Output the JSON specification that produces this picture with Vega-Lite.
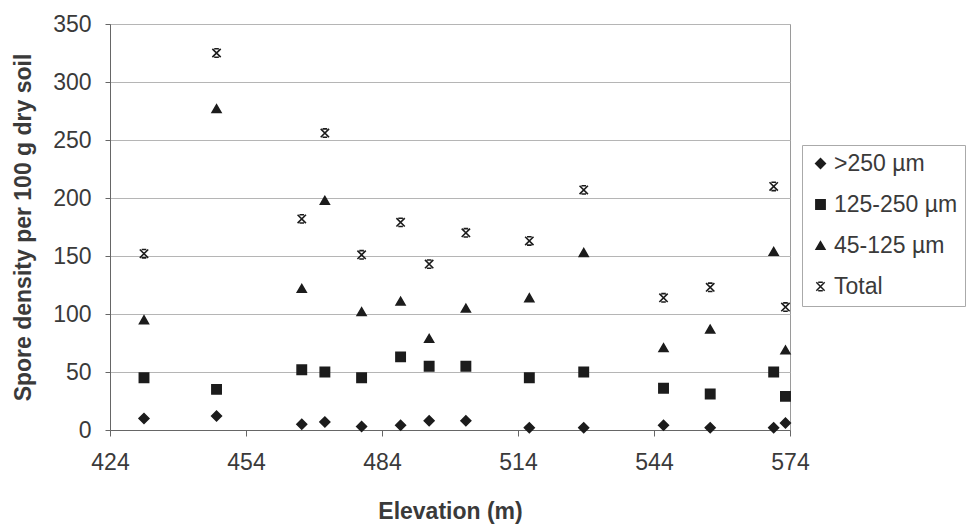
{
  "$schema": "https://vega.github.io/schema/vega-lite/v6.json",
  "width": 680,
  "height": 406,
  "autosize": {"type": "none"},
  "padding": {"left": 110, "top": 24, "right": 183, "bottom": 97},
  "background": "white",
  "config": {
    "view": {"stroke": "#9a9a9a", "strokeWidth": 1},
    "font": "Liberation Sans"
  },
  "data": {
    "values": [
      {"elevation": 431.5, "series": ">250 µm", "value": 10},
      {"elevation": 431.5, "series": "125-250 µm", "value": 45},
      {"elevation": 431.5, "series": "45-125 µm", "value": 95},
      {"elevation": 431.5, "series": "Total", "value": 152},
      {"elevation": 447.5, "series": ">250 µm", "value": 12},
      {"elevation": 447.5, "series": "125-250 µm", "value": 35},
      {"elevation": 447.5, "series": "45-125 µm", "value": 277},
      {"elevation": 447.5, "series": "Total", "value": 325},
      {"elevation": 466.3, "series": ">250 µm", "value": 5},
      {"elevation": 466.3, "series": "125-250 µm", "value": 52},
      {"elevation": 466.3, "series": "45-125 µm", "value": 122},
      {"elevation": 466.3, "series": "Total", "value": 182},
      {"elevation": 471.4, "series": ">250 µm", "value": 7},
      {"elevation": 471.4, "series": "125-250 µm", "value": 50},
      {"elevation": 471.4, "series": "45-125 µm", "value": 198},
      {"elevation": 471.4, "series": "Total", "value": 256},
      {"elevation": 479.5, "series": ">250 µm", "value": 3},
      {"elevation": 479.5, "series": "125-250 µm", "value": 45},
      {"elevation": 479.5, "series": "45-125 µm", "value": 102},
      {"elevation": 479.5, "series": "Total", "value": 151},
      {"elevation": 488.1, "series": ">250 µm", "value": 4},
      {"elevation": 488.1, "series": "125-250 µm", "value": 63},
      {"elevation": 488.1, "series": "45-125 µm", "value": 111},
      {"elevation": 488.1, "series": "Total", "value": 179},
      {"elevation": 494.4, "series": ">250 µm", "value": 8},
      {"elevation": 494.4, "series": "125-250 µm", "value": 55},
      {"elevation": 494.4, "series": "45-125 µm", "value": 79},
      {"elevation": 494.4, "series": "Total", "value": 143},
      {"elevation": 502.5, "series": ">250 µm", "value": 8},
      {"elevation": 502.5, "series": "125-250 µm", "value": 55},
      {"elevation": 502.5, "series": "45-125 µm", "value": 105},
      {"elevation": 502.5, "series": "Total", "value": 170},
      {"elevation": 516.5, "series": ">250 µm", "value": 2},
      {"elevation": 516.5, "series": "125-250 µm", "value": 45},
      {"elevation": 516.5, "series": "45-125 µm", "value": 114},
      {"elevation": 516.5, "series": "Total", "value": 163},
      {"elevation": 528.5, "series": ">250 µm", "value": 2},
      {"elevation": 528.5, "series": "125-250 µm", "value": 50},
      {"elevation": 528.5, "series": "45-125 µm", "value": 153},
      {"elevation": 528.5, "series": "Total", "value": 207},
      {"elevation": 546.1, "series": ">250 µm", "value": 4},
      {"elevation": 546.1, "series": "125-250 µm", "value": 36},
      {"elevation": 546.1, "series": "45-125 µm", "value": 71},
      {"elevation": 546.1, "series": "Total", "value": 114},
      {"elevation": 556.4, "series": ">250 µm", "value": 2},
      {"elevation": 556.4, "series": "125-250 µm", "value": 31},
      {"elevation": 556.4, "series": "45-125 µm", "value": 87},
      {"elevation": 556.4, "series": "Total", "value": 123},
      {"elevation": 570.4, "series": ">250 µm", "value": 2},
      {"elevation": 570.4, "series": "125-250 µm", "value": 50},
      {"elevation": 570.4, "series": "45-125 µm", "value": 154},
      {"elevation": 570.4, "series": "Total", "value": 210},
      {"elevation": 573.0, "series": ">250 µm", "value": 6},
      {"elevation": 573.0, "series": "125-250 µm", "value": 29},
      {"elevation": 573.0, "series": "45-125 µm", "value": 69},
      {"elevation": 573.0, "series": "Total", "value": 106}
    ]
  },
  "mark": {"type": "point", "filled": true, "stroke": "#1c1c1c", "strokeWidth": 1.6, "opacity": 1},
  "encoding": {
    "x": {
      "field": "elevation",
      "type": "quantitative",
      "scale": {"domain": [424, 574], "nice": false, "zero": false},
      "axis": {
        "title": "Elevation (m)",
        "values": [424, 454, 484, 514, 544, 574],
        "grid": false,
        "domainColor": "#666666",
        "tickColor": "#666666",
        "tickSize": 6,
        "labelFontSize": 23,
        "labelColor": "#3a3a3a",
        "labelPadding": 15,
        "labelFlush": false,
        "titleFontSize": 23,
        "titleFontWeight": "bold",
        "titleColor": "#3a3a3a",
        "titlePadding": 26
      }
    },
    "y": {
      "field": "value",
      "type": "quantitative",
      "scale": {"domain": [0, 350], "nice": false},
      "axis": {
        "title": "Spore density per 100 g dry soil",
        "values": [0, 50, 100, 150, 200, 250, 300, 350],
        "grid": true,
        "gridColor": "#b5b5b5",
        "domainColor": "#666666",
        "tickColor": "#666666",
        "tickSize": 5,
        "labelFontSize": 23,
        "labelColor": "#3a3a3a",
        "labelPadding": 14,
        "titleFontSize": 23,
        "titleFontWeight": "bold",
        "titleColor": "#3a3a3a",
        "titlePadding": 17
      }
    },
    "shape": {
      "field": "series",
      "type": "nominal",
      "scale": {
        "domain": [">250 µm", "125-250 µm", "45-125 µm", "Total"],
        "range": ["diamond", "square", "triangle-up", "M-1,-1L1,1M1,-1L-1,1M-0.55,-1H0.55M-0.55,1H0.55"]
      },
      "legend": {
        "title": null, "orient": "none", "legendX": 692, "legendY": 121,
        "strokeColor": "#aaaaaa", "padding": 7, "labelFontSize": 23, "labelColor": "#3a3a3a",
        "rowPadding": 17, "labelOffset": 2,
        "encode": {"symbols": {"update": {"stroke": {"value": "#1c1c1c"}, "strokeWidth": {"value": 1.6}}}}
      }
    },
    "fill": {
      "field": "series",
      "type": "nominal",
      "scale": {
        "domain": [">250 µm", "125-250 µm", "45-125 µm", "Total"],
        "range": ["#1c1c1c", "#1c1c1c", "#1c1c1c", "transparent"]
      },
      "legend": {
        "title": null, "orient": "none", "legendX": 692, "legendY": 121,
        "strokeColor": "#aaaaaa", "padding": 7, "labelFontSize": 23, "labelColor": "#3a3a3a",
        "rowPadding": 17, "labelOffset": 2,
        "encode": {"symbols": {"update": {"stroke": {"value": "#1c1c1c"}, "strokeWidth": {"value": 1.6}}}}
      }
    },
    "size": {
      "field": "series",
      "type": "nominal",
      "scale": {
        "domain": [">250 µm", "125-250 µm", "45-125 µm", "Total"],
        "range": [95, 70, 110, 85]
      },
      "legend": {
        "title": null, "orient": "none", "legendX": 692, "legendY": 121,
        "strokeColor": "#aaaaaa", "padding": 7, "labelFontSize": 23, "labelColor": "#3a3a3a",
        "rowPadding": 17, "labelOffset": 2,
        "encode": {"symbols": {"update": {"stroke": {"value": "#1c1c1c"}, "strokeWidth": {"value": 1.6}}}}
      }
    }
  }
}
